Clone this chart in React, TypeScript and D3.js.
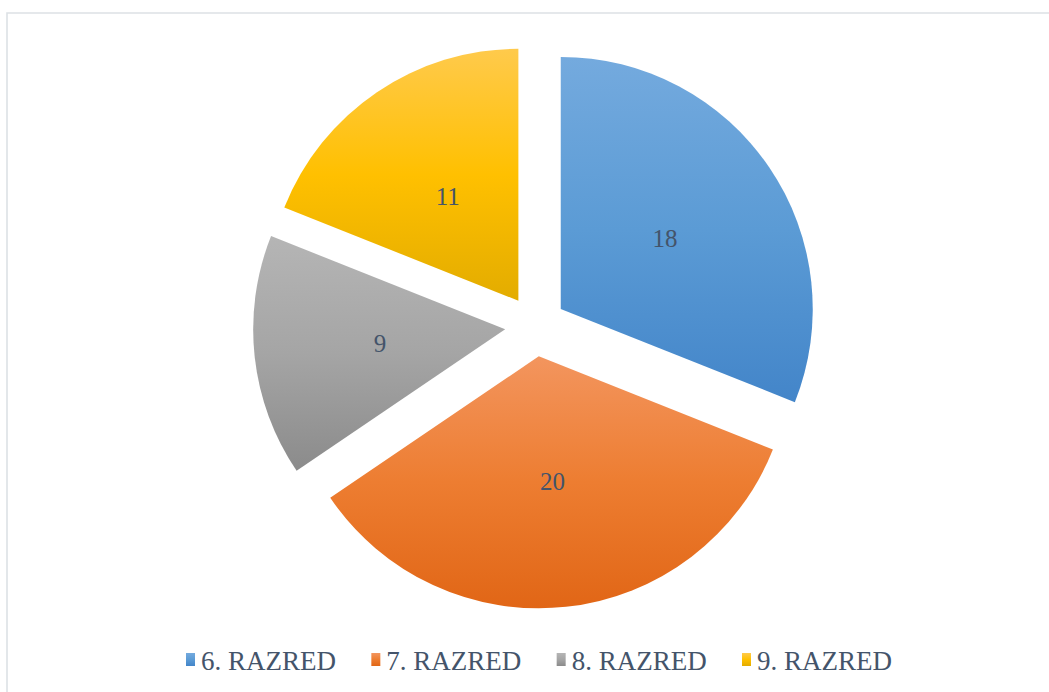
import React from 'react'
import * as d3 from 'd3'

////////////////////
//// Data
const categories = ['6. RAZRED', '7. RAZRED', '8. RAZRED', '9. RAZRED']
const values = [18, 20, 9, 11]
const baseColors = ['#5b9bd5', '#ed7d31', '#a5a5a5', '#ffc000']
const topColors = ['#74aade', '#f3955e', '#b5b5b5', '#ffca4c']
const bottomColors = ['#4385c9', '#e16616', '#8b8b8b', '#e3ac00']

const width = 1049
const height = 692
const cx = 535.5
const cy = 326
const radius = 252
const explode = 30.5

export default function App() {
    const pie = d3.pie<number>().sort(null).value(d => d)
    const arcs = pie(values)
    const arc = d3.arc<d3.PieArcDatum<number>>().innerRadius(0).outerRadius(radius)

    // legend placement
    const legendX = d3.scalePoint<string>().domain(categories).range([186, 742])

    return (
        <svg width={width} height={height} style={{ position: 'absolute', left: 0, top: 0 }}
             fontFamily="'Liberation Serif', 'Times New Roman', serif">
            <defs>
                {categories.map((c, i) => (
                    <linearGradient key={c} id={`g${i}`} x1="0" y1="0" x2="0" y2="1">
                        <stop offset="0%" stopColor={topColors[i]}/>
                        <stop offset="50%" stopColor={baseColors[i]}/>
                        <stop offset="100%" stopColor={bottomColors[i]}/>
                    </linearGradient>
                ))}
            </defs>
            <rect x={0} y={0} width={width} height={height} fill="#fff"/>
            <path d={`M7,${height + 2}V13H${width + 2}`} fill="none" stroke="#dde1e5" strokeWidth={1.6}/>

            {arcs.map((a, i) => {
                const mid = (a.startAngle + a.endAngle) / 2
                const dx = Math.sin(mid) * explode
                const dy = -Math.cos(mid) * explode
                const [lx, ly] = arc.centroid(a)
                return (
                    <g key={i} transform={`translate(${cx + dx},${cy + dy})`}>
                        <path d={arc(a) || ''} fill={`url(#g${i})`}/>
                        <text x={lx} y={ly} dy="0.35em" textAnchor="middle" fontSize={25} fill="#44546a">
                            {values[i]}
                        </text>
                    </g>
                )
            })}

            <g>
                {categories.map((c, i) => (
                    <g key={c} transform={`translate(${legendX(c)},653)`}>
                        <rect x={0} y={0} width={9} height={13} fill={`url(#g${i})`}/>
                        <text x={15} y={16.5} fontSize={27} fill="#44546a">{c}</text>
                    </g>
                ))}
            </g>
        </svg>
    )
}
